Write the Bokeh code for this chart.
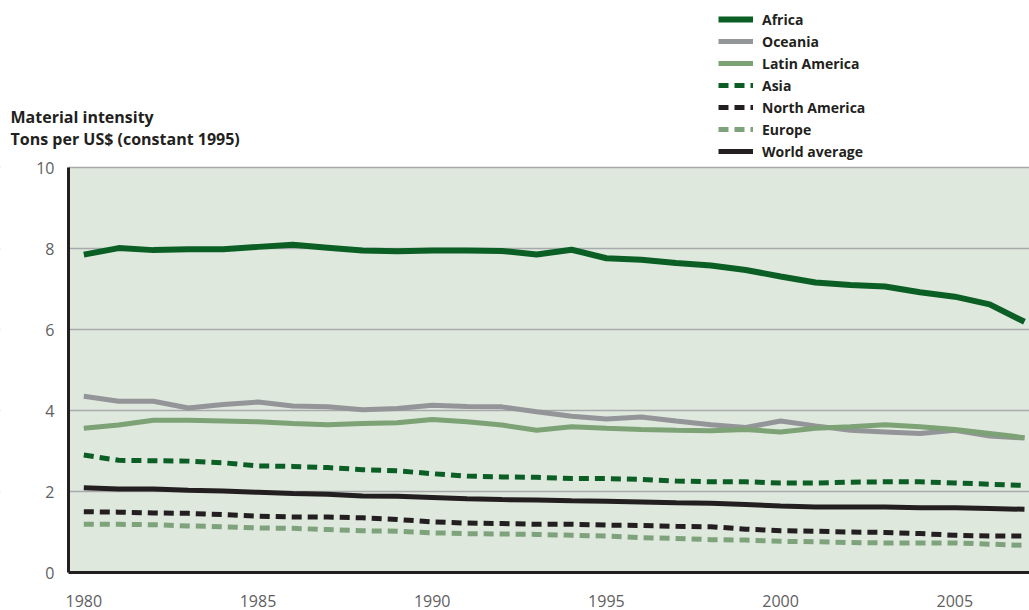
from bokeh.plotting import figure
from bokeh.models import Legend, LegendItem, Label, FixedTicker, Range1d, BoxAnnotation
from bokeh.embed import file_html
from bokeh.resources import INLINE

years = list(range(1980, 2008))

africa = [7.85, 8.01, 7.96, 7.98, 7.98, 8.04, 8.09, 8.02, 7.95, 7.93, 7.95, 7.95, 7.94, 7.85, 7.97,
          7.76, 7.72, 7.64, 7.58, 7.47, 7.31, 7.16, 7.10, 7.06, 6.92, 6.81, 6.62, 6.19]
oceania = [4.35, 4.23, 4.23, 4.06, 4.15, 4.21, 4.11, 4.09, 4.02, 4.05, 4.13, 4.10, 4.09, 3.97, 3.86,
           3.79, 3.84, 3.74, 3.65, 3.58, 3.74, 3.62, 3.51, 3.47, 3.43, 3.51, 3.37, 3.32]
latin_america = [3.56, 3.64, 3.76, 3.76, 3.74, 3.72, 3.68, 3.65, 3.68, 3.70, 3.78, 3.72, 3.64, 3.51, 3.60,
                 3.56, 3.53, 3.51, 3.50, 3.53, 3.47, 3.56, 3.60, 3.65, 3.60, 3.53, 3.43, 3.33]
asia = [2.90, 2.77, 2.76, 2.75, 2.71, 2.63, 2.62, 2.59, 2.54, 2.51, 2.44, 2.38, 2.36, 2.35, 2.32,
        2.32, 2.30, 2.26, 2.24, 2.24, 2.21, 2.21, 2.23, 2.24, 2.24, 2.21, 2.18, 2.15]
north_america = [1.50, 1.49, 1.47, 1.46, 1.43, 1.39, 1.37, 1.37, 1.35, 1.31, 1.25, 1.22, 1.21, 1.19, 1.19,
                 1.17, 1.16, 1.14, 1.13, 1.07, 1.03, 1.02, 1.00, 0.99, 0.96, 0.92, 0.90, 0.90]
europe = [1.19, 1.19, 1.18, 1.15, 1.13, 1.10, 1.09, 1.06, 1.03, 1.02, 0.98, 0.96, 0.95, 0.94, 0.92,
          0.90, 0.86, 0.84, 0.81, 0.80, 0.77, 0.76, 0.74, 0.73, 0.73, 0.73, 0.70, 0.67]
world_average = [2.09, 2.06, 2.06, 2.03, 2.01, 1.98, 1.95, 1.93, 1.89, 1.88, 1.85, 1.82, 1.80, 1.79, 1.77,
                 1.76, 1.74, 1.72, 1.71, 1.68, 1.64, 1.62, 1.62, 1.62, 1.60, 1.60, 1.58, 1.56]

x_ticks = [1980, 1985, 1990, 1995, 2000, 2005]
y_ticks = [0, 2, 4, 6, 8, 10]
y_title = "Material intensity"
y_subtitle = "Tons per US$ (constant 1995)"

FONT = "Open Sans"
DARK_GREEN = "#0b5f25"
GREY = "#939598"
LIGHT_GREEN = "#7ca275"
EURO_GREEN = "#7ea37c"
BLACK = "#231f20"
BG = "#dee8dd"

# layout constants (pixels)
W, H = 1029, 610
PX_PER_YEAR = 34.84
PX_PER_UNIT = 40.5
X_FIRST_PX = 83.3      # where 1980 sits
PLOT_LEFT_PX = 68      # left edge of the shaded plot area
ZERO_PX = 572          # y pixel of value 0 (from top)

x0 = 1980 - X_FIRST_PX / PX_PER_YEAR
x1 = x0 + W / PX_PER_YEAR
y1 = ZERO_PX / PX_PER_UNIT
y0 = -(H - ZERO_PX) / PX_PER_UNIT
x_left = x0 + PLOT_LEFT_PX / PX_PER_YEAR

p = figure(width=W, height=H, output_backend="svg", toolbar_location=None,
           x_range=Range1d(x0, x1), y_range=Range1d(y0, y1),
           min_border=0)
p.outline_line_color = None
p.background_fill_color = "white"
p.border_fill_color = "white"

# shaded plot area
p.add_layout(BoxAnnotation(left=x_left, bottom=0, top=10, fill_color=BG, fill_alpha=1,
                           line_color=None, level="image"))

p.xgrid.grid_line_color = None
p.ygrid.ticker = FixedTicker(ticks=[2, 4, 6, 8, 10])
p.ygrid.grid_line_color = "#a7a9ac"
p.ygrid.grid_line_width = 1.5
# hide grid left of the plot area
p.add_layout(BoxAnnotation(right=x_left, fill_color="white", fill_alpha=1,
                           line_color=None, level="underlay"))

r_af = p.line(years, africa, line_color=DARK_GREEN, line_width=6)
r_oc = p.line(years, oceania, line_color=GREY, line_width=5)
r_la = p.line(years, latin_america, line_color=LIGHT_GREEN, line_width=5)
r_as = p.line(years, asia, line_color=DARK_GREEN, line_width=5, line_dash="10 6")
r_na = p.line(years, north_america, line_color=BLACK, line_width=5, line_dash="10 6")
r_eu = p.line(years, europe, line_color=EURO_GREEN, line_width=5, line_dash="10 6")
r_wa = p.line(years, world_average, line_color=BLACK, line_width=5)

for ax in (p.xaxis[0], p.yaxis[0]):
    ax.axis_line_color = BLACK
    ax.axis_line_width = 3
    ax.major_tick_line_color = None
    ax.minor_tick_line_color = None
    ax.major_tick_out = 0
    ax.major_tick_in = 0
    ax.major_label_text_font = FONT
    ax.major_label_text_font_size = "16px"
    ax.major_label_text_color = "#606062"

p.xaxis.ticker = FixedTicker(ticks=x_ticks)
p.yaxis.ticker = FixedTicker(ticks=y_ticks)
p.xaxis.fixed_location = 0
p.yaxis.fixed_location = x_left
p.xaxis.bounds = (x_left, x1)
p.yaxis.bounds = (0, 10)
p.xaxis.major_label_standoff = 22
p.yaxis.major_label_standoff = 14

items = [
    LegendItem(label="Africa", renderers=[r_af]),
    LegendItem(label="Oceania", renderers=[r_oc]),
    LegendItem(label="Latin America", renderers=[r_la]),
    LegendItem(label="Asia", renderers=[r_as]),
    LegendItem(label="North America", renderers=[r_na]),
    LegendItem(label="Europe", renderers=[r_eu]),
    LegendItem(label="World average", renderers=[r_wa]),
]
legend = Legend(items=items, location=(718, H - 162), padding=0, margin=0,
                border_line_color=None, background_fill_alpha=0,
                label_text_font=FONT, label_text_font_style="bold",
                label_text_font_size="14px", label_text_color=BLACK,
                label_height=22, glyph_height=22, glyph_width=35,
                spacing=0, label_standoff=9)
p.add_layout(legend, "center")

p.add_layout(Label(x=10, y=H - 116, x_units="screen", y_units="screen",
                   text=y_title, text_font=FONT, text_font_style="bold",
                   text_font_size="16px", text_color=BLACK, text_baseline="middle"))
p.add_layout(Label(x=10, y=H - 138, x_units="screen", y_units="screen",
                   text=y_subtitle, text_font=FONT, text_font_style="bold",
                   text_font_size="16px", text_color=BLACK, text_baseline="middle"))

open("out.html", "w").write(file_html(p, INLINE))
